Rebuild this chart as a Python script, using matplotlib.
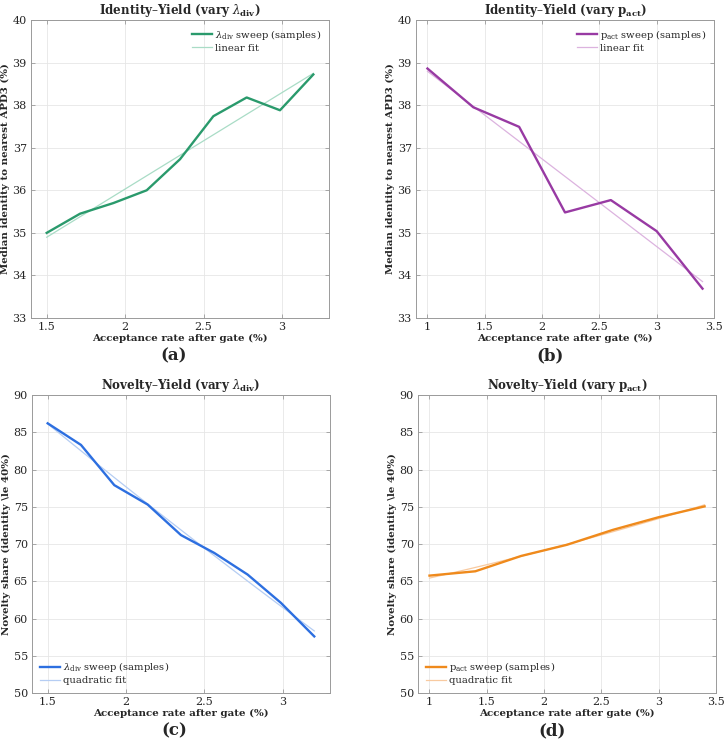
#!/usr/bin/env python3
"""
Identity / Novelty vs Yield sweeps (2x2 panels)
"""
import numpy as np
import matplotlib
matplotlib.use("Agg")
import matplotlib.pyplot as plt

# =================================================================================================
# Data
# =================================================================================================
# lambda_div sweep, 9 samples
lam_rate = [1.5, 1.7125, 1.925, 2.1375, 2.35, 2.5625, 2.775, 2.9875, 3.2]
lam_identity = [35.0, 35.45, 35.7, 36.0, 36.73, 37.74, 38.18, 37.88, 38.72]
lam_novelty = [86.2, 83.3, 77.9, 75.3, 71.2, 68.8, 65.9, 62.1, 57.6]

# p_act sweep, 7 samples
pact_rate = [1.0, 1.4, 1.8, 2.2, 2.6, 3.0, 3.4]
pact_identity = [38.86, 37.95, 37.49, 35.48, 35.77, 35.04, 33.69]
pact_novelty = [65.76, 66.34, 68.4, 69.9, 71.9, 73.6, 75.05]

# =================================================================================================
# Style
# =================================================================================================
plt.rcParams['font.family'] = ['DejaVu Serif', 'DejaVu Sans']
plt.rcParams['mathtext.fontset'] = 'dejavuserif'

TICK_FS = 8
LABEL_FS = 7.4
TITLE_FS = 8.6
LEGEND_FS = 7.2
PANEL_FS = 12
SPINE_C = '#9a9a9a'
TEXT_C = '#262626'

XLAB = 'Acceptance rate after gate (%)'
YLAB_ID = 'Median identity to nearest APD3 (%)'
YLAB_NOV = 'Novelty share (identity \\le 40%)'

panels = [
    dict(pos=[0.0428, 0.5737, 0.411, 0.3995], x=lam_rate, y=lam_identity, deg=1,
         color='#2a9a6c', fit_color='#a9dcc6', xlim=(1.4, 3.3), xticks=[1.5, 2, 2.5, 3],
         ylim=(33, 40), yticks=range(33, 41), ylabel=YLAB_ID,
         title=r'Identity–Yield (vary $\lambda_{\mathbf{div}}$)',
         lab=r'$\lambda_{\mathrm{div}}$ sweep (samples)', fit_lab='linear fit',
         loc='upper right', letter='(a)', letter_xy=(0.239, 0.512)),
    dict(pos=[0.5738, 0.5737, 0.411, 0.3995], x=pact_rate, y=pact_identity, deg=1,
         color='#983aa3', fit_color='#dcb3df', xlim=(0.9, 3.5), xticks=[1, 1.5, 2, 2.5, 3, 3.5],
         ylim=(33, 40), yticks=range(33, 41), ylabel=YLAB_ID,
         title=r'Identity–Yield (vary $\mathbf{p_{act}}$)',
         lab=r'$\mathrm{p_{act}}$ sweep (samples)', fit_lab='linear fit',
         loc='upper right', letter='(b)', letter_xy=(0.759, 0.512)),
    dict(pos=[0.0441, 0.0710, 0.411, 0.3995], x=lam_rate, y=lam_novelty, deg=2,
         color='#2d6fe0', fit_color='#b5cdf3', xlim=(1.4, 3.3), xticks=[1.5, 2, 2.5, 3],
         ylim=(50, 90), yticks=range(50, 91, 5), ylabel=YLAB_NOV,
         title=r'Novelty–Yield (vary $\lambda_{\mathbf{div}}$)',
         lab=r'$\lambda_{\mathrm{div}}$ sweep (samples)', fit_lab='quadratic fit',
         loc='lower left', letter='(c)', letter_xy=(0.241, 0.009)),
    dict(pos=[0.5766, 0.0710, 0.411, 0.3995], x=pact_rate, y=pact_novelty, deg=2,
         color='#ef8a1c', fit_color='#f8caa0', xlim=(0.9, 3.5), xticks=[1, 1.5, 2, 2.5, 3, 3.5],
         ylim=(50, 90), yticks=range(50, 91, 5), ylabel=YLAB_NOV,
         title=r'Novelty–Yield (vary $\mathbf{p_{act}}$)',
         lab=r'$\mathrm{p_{act}}$ sweep (samples)', fit_lab='quadratic fit',
         loc='lower left', letter='(d)', letter_xy=(0.761, 0.009)),
]

# =================================================================================================
# Plot
# =================================================================================================
fig = plt.figure(figsize=(7.25, 7.46), dpi=100)

for p in panels:
    ax = fig.add_axes(p['pos'])
    x = np.array(p['x'])
    y = np.array(p['y'])

    # fit from the samples
    coef = np.polyfit(x, y, p['deg'])
    xf = np.linspace(x.min(), x.max(), 100)
    yf = np.polyval(coef, xf)

    ax.plot(x, y, color=p['color'], lw=1.7, label=p['lab'], zorder=3)
    ax.plot(xf, yf, color=p['fit_color'], lw=0.9, label=p['fit_lab'], zorder=2)

    ax.set_xlim(*p['xlim'])
    ax.set_ylim(*p['ylim'])
    ax.set_xticks(p['xticks'])
    ax.set_xticklabels([f'{v:g}' for v in p['xticks']])
    ax.set_yticks(list(p['yticks']))

    ax.grid(True, color='#e6e6e6', lw=0.6)
    ax.set_axisbelow(True)
    for s in ax.spines.values():
        s.set_color(SPINE_C)
        s.set_linewidth(0.7)
    ax.tick_params(direction='in', length=3, width=0.6, color=SPINE_C,
                   labelsize=TICK_FS, labelcolor=TEXT_C, top=True, right=True, pad=3)

    ax.set_xlabel(XLAB, fontsize=LABEL_FS, fontweight='bold', color=TEXT_C, labelpad=1)
    ax.set_ylabel(p['ylabel'], fontsize=LABEL_FS, fontweight='bold', color=TEXT_C, labelpad=2)
    ax.set_title(p['title'], fontsize=TITLE_FS, fontweight='bold', color=TEXT_C, pad=4)

    leg = ax.legend(loc=p['loc'], frameon=False, fontsize=LEGEND_FS, handlelength=2.0,
                    handletextpad=0.3, labelspacing=0.2, borderaxespad=0.4)
    for t in leg.get_texts():
        t.set_color(TEXT_C)

    fig.text(p['letter_xy'][0], p['letter_xy'][1], p['letter'], fontsize=PANEL_FS,
             fontweight='bold', color=TEXT_C, ha='center', va='bottom')

plt.savefig('out.png', dpi=100)
print("saved out.png")
